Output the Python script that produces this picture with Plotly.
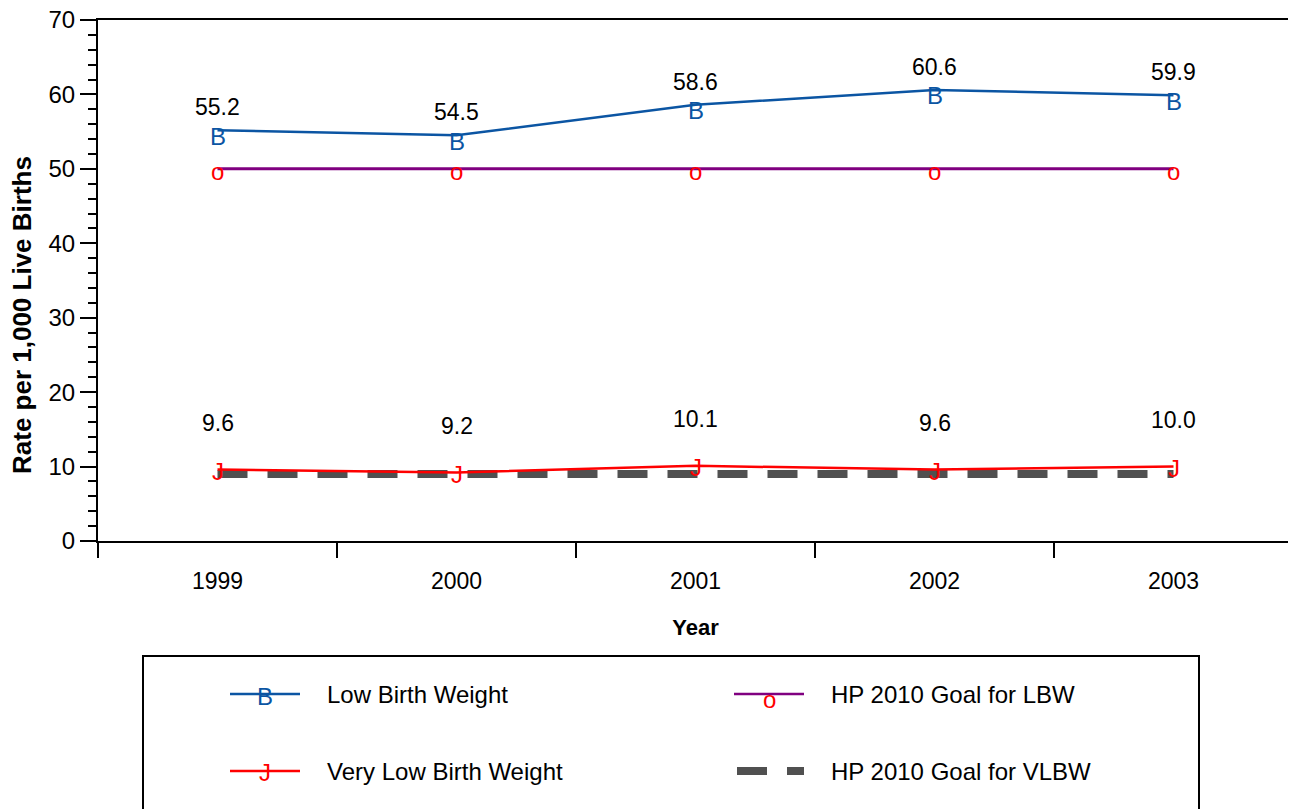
import plotly.graph_objects as go

# data
years = [1999, 2000, 2001, 2002, 2003]
lbw = [55.2, 54.5, 58.6, 60.6, 59.9]
vlbw = [9.6, 9.2, 10.1, 9.6, 10.0]
goal_lbw = [50, 50, 50, 50, 50]
goal_vlbw = [9, 9, 9, 9, 9]
year_edges = [1998.5, 1999.5, 2000.5, 2001.5, 2002.5, 2003.5]

BLUE = "#0B55A3"
RED = "#FF0000"
PURPLE = "#800080"
GRAY = "#505050"
FONT = "Liberation Sans, Arial, sans-serif"

# the page body adds an 8px margin, so work in shifted pixel coordinates
OFF = 8
W, H = 1296 - OFF, 809 - OFF
L, R, T, B = 98 - OFF, 1293 - OFF, 20 - OFF, 541 - OFF


def px_x(x):
    return (x - OFF - L) / (R - L)


def px_y(y):
    return (B - (y - OFF)) / (B - T)


fig = go.Figure()

fig.add_trace(go.Scatter(x=years, y=goal_vlbw, mode="lines",
                         line=dict(color=GRAY, width=8, dash="30px,20px")))
fig.add_trace(go.Scatter(x=years, y=goal_lbw, mode="lines",
                         line=dict(color=PURPLE, width=3)))
fig.add_trace(go.Scatter(x=years, y=vlbw, mode="lines",
                         line=dict(color=RED, width=2.5)))
fig.add_trace(go.Scatter(x=years, y=lbw, mode="lines",
                         line=dict(color=BLUE, width=2.5)))

# SAS-style letter symbols and value labels
for x, y in zip(years, lbw):
    fig.add_annotation(x=x, y=y, text="B", showarrow=False, yshift=-6,
                       font=dict(color=BLUE, size=24, family=FONT))
    fig.add_annotation(x=x, y=y, text=f"{y:.1f}", showarrow=False, yshift=23,
                       font=dict(color="black", size=23, family=FONT))
for x, y in zip(years, goal_lbw):
    fig.add_annotation(x=x, y=y, text="o", showarrow=False, yshift=-3,
                       font=dict(color=RED, size=24, family=FONT))
for x, y in zip(years, vlbw):
    fig.add_annotation(x=x, y=y, text="J", showarrow=False, yshift=-2,
                       font=dict(color=RED, size=24, family=FONT))
    fig.add_annotation(x=x, y=y, text=f"{y:.1f}", showarrow=False, yshift=47,
                       font=dict(color="black", size=23, family=FONT))

# y axis title placed by hand (sits below the plot middle in the reference)
fig.add_annotation(xref="paper", yref="paper", x=px_x(22), y=px_y(315),
                   text="<b>Rate per 1,000 Live Births</b>", textangle=-90,
                   showarrow=False, xanchor="center", yanchor="middle",
                   font=dict(color="black", size=26, family=FONT))

# legend box drawn by hand
fig.add_shape(type="rect", xref="paper", yref="paper",
              x0=px_x(143), x1=px_x(1199), y0=px_y(656), y1=px_y(830),
              line=dict(color="black", width=2))

legend_items = [
    ("Low Birth Weight", 230, 694, BLUE, "B", BLUE, "solid", -2),
    ("Very Low Birth Weight", 230, 771, RED, "J", RED, "solid", -1),
    ("HP 2010 Goal for LBW", 734, 694, PURPLE, "o", RED, "solid", -5),
    ("HP 2010 Goal for VLBW", 734, 771, GRAY, "", GRAY, "dash", 0),
]
for label, lx, ly, lc, sym, sc, style, shift in legend_items:
    if style == "dash":
        for a, b in [(737, 767), (787, 804)]:
            fig.add_shape(type="line", xref="paper", yref="paper",
                          x0=px_x(a), x1=px_x(b), y0=px_y(ly), y1=px_y(ly),
                          line=dict(color=lc, width=8))
    else:
        fig.add_shape(type="line", xref="paper", yref="paper",
                      x0=px_x(lx), x1=px_x(lx + 70), y0=px_y(ly), y1=px_y(ly),
                      line=dict(color=lc, width=2.5))
        fig.add_annotation(xref="paper", yref="paper", x=px_x(lx + 35), y=px_y(ly),
                           text=sym, showarrow=False, xanchor="center",
                           yanchor="middle", yshift=shift,
                           font=dict(color=sc, size=24, family=FONT))
    fig.add_annotation(xref="paper", yref="paper", x=px_x(lx + 95), y=px_y(ly),
                       text=label, showarrow=False, xanchor="left",
                       yanchor="middle",
                       font=dict(color="black", size=24, family=FONT))

fig.update_layout(
    width=W, height=H,
    margin=dict(l=L, r=W - R, t=T, b=H - B),
    plot_bgcolor="white", paper_bgcolor="white",
    showlegend=False,
    font=dict(family=FONT, color="black", size=23),
    xaxis=dict(
        range=[1998.5, 2003.5], tickvals=years, ticks="",
        ticklabelstandoff=18, ticklabeloverflow="allow",
        minor=dict(tickvals=year_edges, ticks="outside", ticklen=15,
                   tickwidth=1.5, tickcolor="black"),
        showline=True, linecolor="black", linewidth=2, mirror=True,
        showgrid=False, zeroline=False, automargin=False,
        title=dict(text="<b>Year</b>", standoff=27, font=dict(size=22)),
    ),
    yaxis=dict(
        range=[0, 70], dtick=10, ticks="outside", ticklen=16, tickwidth=1.5,
        tickcolor="black", ticklabeloverflow="allow",
        tickfont=dict(size=24),
        minor=dict(dtick=2, ticks="outside", ticklen=8, tickwidth=1.5,
                   tickcolor="black"),
        showline=True, linecolor="black", linewidth=2, mirror=True,
        showgrid=False, zeroline=False, automargin=False,
    ),
)

fig.write_html("out.html")
